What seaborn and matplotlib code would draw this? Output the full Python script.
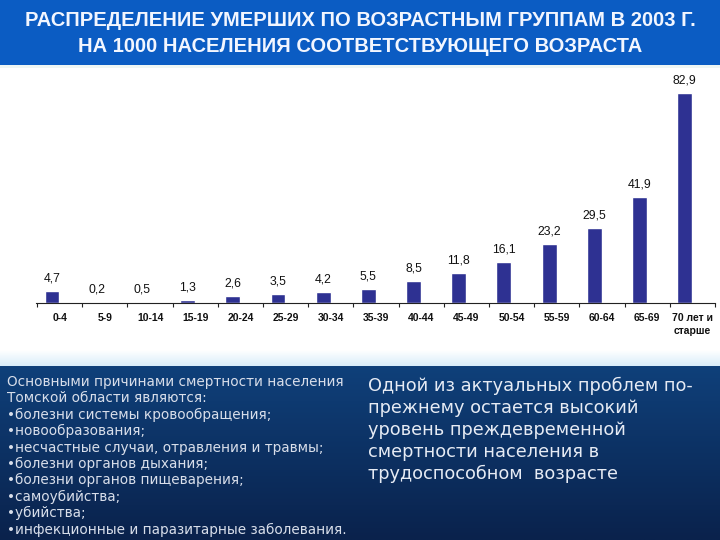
import numpy as np
import matplotlib
matplotlib.use("Agg")
import matplotlib.pyplot as plt
import seaborn as sns
from matplotlib.patches import Rectangle

# Data
age_groups = ["0-4", "5-9", "10-14", "15-19", "20-24", "25-29", "30-34", "35-39",
              "40-44", "45-49", "50-54", "55-59", "60-64", "65-69", "70 лет и\nстарше"]
deaths_per_1000 = [4.7, 0.2, 0.5, 1.3, 2.6, 3.5, 4.2, 5.5,
                   8.5, 11.8, 16.1, 23.2, 29.5, 41.9, 82.9]

title_lines = ["РАСПРЕДЕЛЕНИЕ УМЕРШИХ ПО ВОЗРАСТНЫМ ГРУППАМ В 2003 Г.",
               "НА 1000 НАСЕЛЕНИЯ СООТВЕТСТВУЮЩЕГО ВОЗРАСТА"]

causes_lines = ["Основными причинами смертности населения",
                "Томской области являются:",
                "•болезни системы кровообращения;",
                "•новообразования;",
                "•несчастные случаи, отравления и травмы;",
                "•болезни органов дыхания;",
                "•болезни органов пищеварения;",
                "•самоубийства;",
                "•убийства;",
                "•инфекционные и паразитарные заболевания."]

note_lines = ["Одной из актуальных проблем по-",
              "прежнему остается высокий",
              "уровень преждевременной",
              "смертности населения в",
              "трудоспособном  возрасте"]

sns.set_theme(style="white")
plt.rcParams['font.family'] = ['Liberation Sans', 'DejaVu Sans']

W, H = 720, 540
fig = plt.figure(figsize=(7.2, 5.4), dpi=100, facecolor="white")

# background: banner, light strip, navy gradient panel
bg = fig.add_axes([0, 0, 1, 1], zorder=-1)
bg.set_xlim(0, W)
bg.set_ylim(H, 0)
bg.axis("off")
bg.add_patch(Rectangle((0, 0), W, 65, color="#0b5cc3", lw=0))
bg.add_patch(Rectangle((0, 65), W, 3, color="#eef6f4", lw=0))
strip = np.linspace(0, 1, 50)[:, None]
strip_cols = np.array([1.0, 1.0, 1.0]) * (1 - strip[..., None]) + \
    np.array([0.85, 0.93, 0.98]) * strip[..., None]
bg.imshow(strip_cols, extent=[0, W, 366, 350], aspect="auto")
t = np.linspace(0, 1, 100)[:, None]
top_c = np.array([0x0f, 0x40, 0x7a]) / 255
bot_c = np.array([0x0a, 0x22, 0x4c]) / 255
grad = top_c * (1 - t[..., None]) + bot_c * t[..., None]
grad = np.repeat(grad, 2, axis=1)
bg.imshow(grad, extent=[0, W, H, 366], aspect="auto")

for i, line in enumerate(title_lines):
    bg.text(W / 2, 21 + 25 * i, line, ha="center", va="center", color="#f2f6ff",
            fontsize=14.5, fontweight="bold",
            family=['Liberation Sans Narrow', 'Liberation Sans', 'DejaVu Sans'])

for i, line in enumerate(causes_lines):
    bg.text(7, 382 + 16.4 * i, line, ha="left", va="center", color="#d8deea",
            fontsize=9.8, family=['DejaVu Sans'])

for i, line in enumerate(note_lines):
    bg.text(368, 386 + 22 * i, line, ha="left", va="center", color="#e6ebf4",
            fontsize=12.75, family=['DejaVu Sans'])

# bar chart
ax = fig.add_axes([36.2 / W, (H - 303) / H, 678.8 / W, 238 / H])
ax.patch.set_alpha(0)
sns.barplot(x=list(range(len(age_groups))), y=deaths_per_1000, color="#2e3192",
            width=0.33, saturation=1, ax=ax, native_scale=True)
ax.set_xlim(-0.35, len(age_groups) - 0.33)
ax.set_ylim(0, 93.9)
ax.set_yticks([])
ax.set_xlabel("")
ax.set_ylabel("")
for s in ["top", "left", "right"]:
    ax.spines[s].set_visible(False)
ax.spines["bottom"].set_color("#222222")
ax.spines["bottom"].set_linewidth(0.8)

pos = np.arange(len(age_groups))
ax.set_xticks(pos + 0.17)
ax.set_xticklabels(age_groups, fontsize=7.5, fontweight="bold", color="#111111")
ax.set_xticks(np.arange(len(age_groups) + 1) - 0.33, minor=True)
ax.tick_params(axis="x", which="major", length=0, pad=7)
ax.tick_params(axis="x", which="minor", length=3, width=0.8, color="#222222",
               direction="out", bottom=True)
for lab in ax.get_xticklabels():
    lab.set_linespacing(1.35)

for p, v in zip(pos, deaths_per_1000):
    ax.annotate(f"{v:.1f}".replace(".", ","), (p, v), xytext=(0, 9),
                textcoords="offset points", ha="center", va="center",
                fontsize=8.8, color="#111111")

fig.savefig("out.png", dpi=100, facecolor="white")
